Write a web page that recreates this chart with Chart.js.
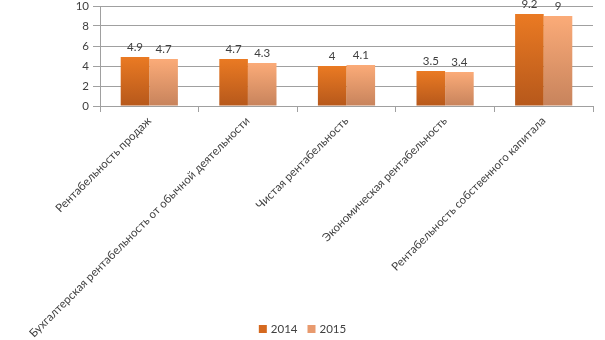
<!DOCTYPE html>
<html>
<head>
<meta charset="utf-8">
<script src="https://cdn.jsdelivr.net/npm/chart.js@4"></script>
<style>
    html, body { margin: 0; padding: 0; background: #fff; }
    #wrap { width: 605px; height: 340px; }
</style>
</head>
<body>
<div id="wrap"><canvas id="rentChart"></canvas></div>
<script>
const categories = [
    'Рентабельность продаж',
    'Бухгалтерская рентабельность от обычной деятельности',
    'Чистая рентабельность',
    'Экономическая рентабельность',
    'Рентабельность собственного капитала'
];
const years = ['2014', '2015'];
const values2014 = [4.9, 4.7, 4, 3.5, 9.2];
const values2015 = [4.7, 4.3, 4.1, 3.4, 9];

const textColor = '#404040';
const gridColor = '#a0a0a0';
const fontFamily = 'Lato, "Open Sans", sans-serif';
const legendColors = ['#d5691f', '#e89a6e'];

// Вертикальный градиент для каждого столбца: светлый сверху, темнее к оси
function barGradient(top, bottom) {
    return function(ctx) {
        const chart = ctx.chart;
        const y = chart.scales.y;
        if (!y || ctx.raw === undefined) return top;
        const y0 = y.getPixelForValue(0);
        const y1 = y.getPixelForValue(ctx.raw);
        if (!isFinite(y0) || !isFinite(y1) || y0 === y1) return top;
        const g = chart.ctx.createLinearGradient(0, y1, 0, y0);
        g.addColorStop(0, top);
        g.addColorStop(1, bottom);
        return g;
    };
}

// Подписи значений над столбцами
const valueLabels = {
    id: 'valueLabels',
    afterDatasetsDraw(chart) {
        const ctx = chart.ctx;
        ctx.save();
        ctx.font = '11.5px ' + fontFamily;
        ctx.fillStyle = textColor;
        ctx.textAlign = 'center';
        ctx.textBaseline = 'middle';
        chart.data.datasets.forEach((ds, i) => {
            chart.getDatasetMeta(i).data.forEach((bar, j) => {
                ctx.fillText(String(ds.data[j]), bar.x, bar.y - 10);
            });
        });
        ctx.restore();
    }
};

// Легенда внизу поверх области подписей оси X (длинная подпись уходит под неё)
const bottomLegend = {
    id: 'bottomLegend',
    afterDraw(chart) {
        const ctx = chart.ctx;
        ctx.save();
        ctx.font = '11.5px ' + fontFamily;
        ctx.textBaseline = 'middle';
        const box = 8, gap = 4, between = 10;
        const widths = years.map(t => box + gap + ctx.measureText(t).width);
        const total = widths.reduce((a, b) => a + b, 0) + between * (years.length - 1);
        let x = chart.width / 2 - total / 2;
        const yc = 329;
        years.forEach((t, i) => {
            ctx.fillStyle = legendColors[i];
            ctx.fillRect(x, yc - box / 2, box, box);
            ctx.fillStyle = textColor;
            ctx.fillText(t, x + box + gap, yc);
            x += widths[i] + between;
        });
        ctx.restore();
    }
};

new Chart(document.getElementById('rentChart'), {
    type: 'bar',
    data: {
        labels: categories,
        datasets: [
            {
                label: years[0],
                data: values2014,
                backgroundColor: barGradient('#ea7a23', '#b6581b')
            },
            {
                label: years[1],
                data: values2015,
                backgroundColor: barGradient('#fbab78', '#c7835c')
            }
        ]
    },
    options: {
        responsive: true,
        maintainAspectRatio: false,
        animation: false,
        layout: { padding: { left: 0, right: 12, top: 6, bottom: 0 } },
        datasets: {
            bar: { categoryPercentage: 0.58, barPercentage: 1 }
        },
        plugins: {
            tooltip: { enabled: false },
            legend: { display: false }
        },
        scales: {
            x: {
                grid: {
                    offset: true,
                    drawOnChartArea: false,
                    color: gridColor,
                    tickLength: 6
                },
                border: { color: gridColor },
                ticks: {
                    color: textColor,
                    font: { family: fontFamily, size: 11.5 },
                    minRotation: 45,
                    maxRotation: 45,
                    autoSkip: false,
                    padding: 2
                },
                afterFit(scale) {
                    scale.height = 234;
                    scale.paddingLeft = 0;
                    scale.paddingRight = 0;
                }
            },
            y: {
                min: 0,
                max: 10,
                grid: {
                    color: gridColor,
                    tickLength: 7
                },
                border: { color: gridColor },
                ticks: {
                    stepSize: 1,
                    color: textColor,
                    font: { family: fontFamily, size: 11.5 },
                    padding: 4,
                    callback: v => (v % 2 === 0 ? v : '')
                },
                afterFit(scale) {
                    scale.width = 100;
                    scale.paddingTop = 0;
                    scale.paddingBottom = 0;
                }
            }
        }
    },
    plugins: [valueLabels, bottomLegend]
});
</script>
</body>
</html>
